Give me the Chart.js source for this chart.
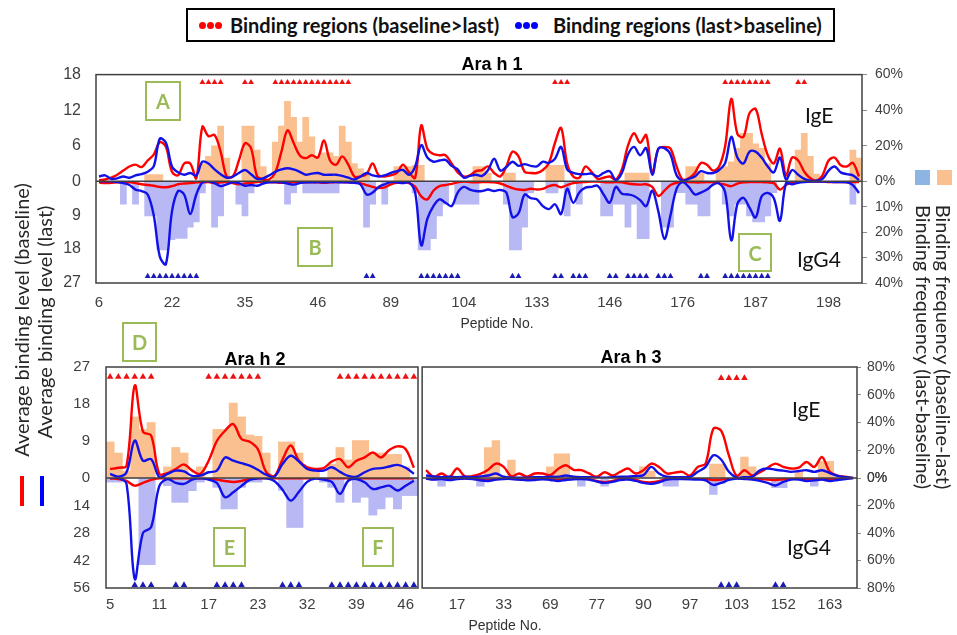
<!DOCTYPE html>
<html>
<head>
<meta charset="utf-8">
<script src="https://cdn.jsdelivr.net/npm/chart.js@4.4.1/dist/chart.umd.min.js"></script>
<style>
html,body{margin:0;padding:0;background:#ffffff;}
#page{position:relative;width:957px;height:635px;overflow:hidden;background:#fff;}
canvas{position:absolute;display:block;}
.txt{position:absolute;white-space:nowrap;line-height:1;}
.ctr{transform:translate(-50%,-50%);}
.hc{transform:translateX(-50%);}
.rotL{transform:translate(-50%,-50%) rotate(-90deg);}
.rotR{transform:translate(-50%,-50%) rotate(90deg);}
.gbox{position:absolute;border:2px solid #9bbb59;box-sizing:border-box;color:#9bbb59;font:bold 20px Lato,sans-serif;display:flex;align-items:center;justify-content:center;}
.dot{position:absolute;width:7px;height:7px;border-radius:50%;}
.side{font-family:Lato,sans-serif;font-size:20px;color:#262626;}
.ig{font-family:Lato,sans-serif;font-size:21px;color:#111;}
.ttl{font-family:"Liberation Sans",Arial,sans-serif;font-weight:bold;font-size:18px;color:#000;}
.pep{font-family:"Liberation Sans",Arial,sans-serif;font-size:14px;color:#333;}
.leg{font-family:Lato,sans-serif;font-weight:bold;font-size:20px;color:#111;}
</style>
</head>
<body>
<div id="page">
  <canvas id="c1" width="957" height="290" style="left:0;top:50px"></canvas>
  <canvas id="c2" width="422" height="295" style="left:0;top:340px"></canvas>
  <canvas id="c3" width="539" height="295" style="left:418px;top:340px"></canvas>

  <div style="position:absolute;left:186px;top:8px;width:649px;height:34px;border:2.5px solid #000;box-sizing:border-box;"></div>
  <div class="dot" style="left:199px;top:22px;background:#ff0000"></div>
  <div class="dot" style="left:207px;top:22px;background:#ff0000"></div>
  <div class="dot" style="left:215px;top:22px;background:#ff0000"></div>
  <div class="txt leg" style="left:230px;top:15px">Binding regions (baseline&gt;last)</div>
  <div class="dot" style="left:515px;top:22px;background:#0000ff"></div>
  <div class="dot" style="left:523px;top:22px;background:#0000ff"></div>
  <div class="dot" style="left:531px;top:22px;background:#0000ff"></div>
  <div class="txt leg" style="left:553px;top:15px">Binding regions (last&gt;baseline)</div>

  <div class="txt ttl hc" style="left:492px;top:55px">Ara h 1</div>
  <div class="txt ttl hc" style="left:255px;top:350px">Ara h 2</div>
  <div class="txt ttl hc" style="left:631px;top:348px">Ara h 3</div>

  <div class="txt pep ctr" style="left:497px;top:323px">Peptide No.</div>
  <div class="txt pep ctr" style="left:505px;top:625px">Peptide No.</div>

  <div class="txt ig" style="left:805px;top:104px">IgE</div>
  <div class="txt ig" style="left:797px;top:248px">IgG4</div>
  <div class="txt ig" style="left:792px;top:398px">IgE</div>
  <div class="txt ig" style="left:787px;top:536px">IgG4</div>

  <div class="gbox" style="left:145px;top:81px;width:36px;height:40px">A</div>
  <div class="gbox" style="left:297px;top:227px;width:36px;height:40px">B</div>
  <div class="gbox" style="left:738px;top:233px;width:34px;height:39px">C</div>
  <div class="gbox" style="left:122px;top:322px;width:35px;height:40px">D</div>
  <div class="gbox" style="left:213px;top:527px;width:33px;height:40px">E</div>
  <div class="gbox" style="left:362px;top:527px;width:32px;height:40px">F</div>

  <div class="txt side rotL" style="left:21px;top:320px">Average binding level (baseline)</div>
  <div class="txt side rotL" style="left:44px;top:322px">Average binding level (last)</div>
  <div style="position:absolute;left:20px;top:476px;width:4px;height:30px;background:#ff0000"></div>
  <div style="position:absolute;left:40px;top:476px;width:4px;height:30px;background:#0000ff"></div>

  <div style="position:absolute;left:915px;top:170px;width:15px;height:15px;background:#8db4e2"></div>
  <div style="position:absolute;left:937px;top:170px;width:15px;height:15px;background:#fac090"></div>
  <div class="txt side rotR" style="left:944px;top:347px">Binding frequency (baseline-last)</div>
  <div class="txt side rotR" style="left:924px;top:347px">Binding frequency (last-baseline)</div>
</div>

<script>
// ---------------- Ara h 1 ----------------
const ah1Count = 126;
const ah1Ticks = ['6','22','35','46','89','104','133','146','176','187','198'];
const ah1IgEBaseline = [0.2,0.3,0.6,1.1,1.8,2.5,2.8,2.4,3.5,4.5,6.6,5.8,1.6,1.0,3.0,3.0,0.5,9.2,7.6,7.8,5.0,0.8,0.8,3.5,6.4,5.6,0.8,0.3,0.3,1.5,5.0,8.6,6.5,4.4,3.9,4.4,4.0,6.9,3.5,2.8,4.2,2.8,0.8,0.8,1.2,3.0,1.0,0.8,1.0,1.4,2.8,1.5,0.6,9.4,5.5,4.6,4.4,4.4,3.0,1.5,0.8,1.0,1.7,1.9,2.5,1.4,0.8,2.5,5.0,4.2,1.6,1.4,1.4,1.9,3.1,6.5,9.0,3.0,0.8,0.6,2.5,1.6,0.4,0.6,0.8,0.3,2.0,6.0,8.1,6.5,7.8,1.4,5.5,5.8,5.5,2.5,0.3,0.5,1.4,3.1,2.8,1.8,2.5,6.0,13.9,8.0,7.5,11.5,12.2,8.0,4.4,3.0,5.5,1.0,4.0,3.5,1.6,0.5,0.1,1.0,3.5,4.0,2.7,2.5,3.1,0.8];
const ah1IgELast = [0.8,1.0,0.4,0.5,0.8,0.6,1.0,1.2,1.6,2.5,7.2,6.5,2.5,1.5,1.1,1.4,1.0,3.3,3.0,2.0,1.2,0.6,0.8,1.4,1.9,1.2,0.4,0.5,1.0,1.6,2.0,2.2,2.0,1.6,1.1,1.3,1.4,1.1,1.1,1.1,0.9,0.6,0.3,0.8,1.4,1.0,0.8,1.0,1.4,1.7,1.9,1.1,2.5,6.1,4.0,3.3,3.5,3.6,2.6,2.0,0.6,0.9,1.1,0.9,1.9,3.8,1.8,2.4,3.3,2.6,2.9,2.6,2.5,3.3,3.1,3.8,5.8,2.0,1.4,1.2,1.2,1.3,0.8,1.4,1.7,0.2,1.4,4.5,5.8,4.4,5.6,1.1,5.5,5.6,4.5,1.0,0.1,0.4,0.8,1.7,1.4,1.4,1.9,3.1,7.5,4.0,3.0,5.0,5.0,4.0,2.5,1.5,4.0,0.3,1.9,1.1,0.4,0.1,0.1,0.4,1.8,2.5,1.5,1.2,1.0,0.2];
const ah1IgG4Baseline = [0.3,0.5,0.4,0.3,0.2,0.3,0.5,0.8,1.0,1.2,1.5,1.6,1.3,0.8,0.6,0.5,0.3,0.3,0.2,0.5,0.3,0.2,0.5,0.8,0.6,0.4,0.2,0.1,0.2,0.3,0.4,0.3,0.2,0.2,0.3,0.2,0.3,0.4,0.3,0.2,0.2,0.3,0.4,0.5,1.0,1.5,1.8,1.6,0.8,0.4,0.3,0.5,1.5,4.0,4.8,2.5,1.3,1.0,0.7,0.3,0.1,0.2,0.3,0.2,0.2,0.3,0.6,1.2,1.8,2.2,2.3,2.0,2.2,2.0,1.3,1.0,1.6,1.0,0.5,0.3,0.2,0.1,0.1,0.2,0.3,0.2,0.3,0.6,0.8,0.9,0.8,1.5,3.9,2.5,1.0,0.4,0.2,0.2,0.3,0.3,0.2,0.3,0.5,0.9,1.3,0.6,0.3,0.2,0.2,0.2,0.3,0.5,2.2,1.0,0.2,0.1,0.1,0.1,0.1,0.1,0.2,0.2,0.2,0.2,0.2,0.2];
const ah1IgG4Last = [0,0,0,0.2,0.5,1.0,2.2,2.6,3.5,9.0,20.0,22.0,8.0,2.6,3.5,8.7,3.5,0.3,0.0,0.5,1.3,0.8,0.3,0.5,1.2,1.0,1.2,0.6,0.3,0.2,0.3,0.6,0.9,0.5,0.3,0.3,0.2,0.3,0.2,0.2,0.3,0.3,0.4,0.8,3.5,3.0,1.5,0.8,0.2,0.3,0.5,0.3,3.0,17.0,10.0,6.6,4.8,5.7,6.6,3.0,1.5,2.2,2.6,2.6,2.2,2.6,2.3,3.0,9.5,8.5,3.5,4.5,4.8,6.6,7.4,6.1,8.7,2.0,5.7,3.0,1.7,1.5,1.2,3.5,5.7,1.5,3.3,3.5,3.9,5.0,6.6,2.5,8.0,15.3,9.0,2.0,0.2,1.5,3.5,3.0,2.2,0.9,0.6,3.0,15.7,6.0,4.4,7.0,9.6,4.0,3.1,4.5,10.5,0.5,0.8,0.4,0.2,0.1,0.1,0.1,0.1,0.2,0.2,0.3,1.0,3.1];
const ah1FreqBaselineLast = [0,0,0,0,0,0,0,0,3.7,3.7,3.7,0,0,0,0,0,0,10,14,20,31,13,0,0,31,31,17.6,8.3,0,22,31,45,36,22,36,25,14,16,16,14,31,22,10,7,4.6,0,0,0,0,8.3,8.3,8.3,9,9,0,0,0,0,0,0,0,0,8.3,8.3,4.6,0,0,4.6,4.6,0,0,0,0,0,9,9,9,0,0,0,0,0,0,0,0,0,0,4.6,4.6,4.6,4.6,0,0,0,0,0,0,8.3,8.3,4.6,0,0,6.5,8.3,11,18.5,27,27,21,18.5,10,0,0,0,0,17.6,27,14,4,0,0,0,0,0,17.6,13];
const ah1FreqLastBaseline = [0,0,0,0,9,0,9,0,13.6,13.6,27,27,23,22.5,22.5,18,16,4.6,0,18,13.6,0,0,9,13.6,4.6,0,0,0,0,0,9,4.6,0,4.6,4.6,4.6,4.6,4.6,4.6,0,0,0,0,18,9,0,9,0,0,0,0,4.6,27,27,22.6,13.6,9,0,9,9,9,9,0,0,0,0,9,27,27,18,4.6,0,0,4.6,4.6,0,13.6,0,9,0,0,0,13.6,13.6,9,9,18,9,22.6,22.6,0,0,18,18,4.5,4.5,9,9,13.6,13.6,0,0,9,13.6,9,9,13.6,16,16,13.6,4.5,0,0,0,0,0,0,0,0,0,0,0,0,9,0];
const ah1RedMarks = [17,18,19,20,24,25,29,30,31,32,33,34,35,36,37,38,39,40,41,75,76,77,103,104,105,106,107,108,109,110,115,116];
const ah1BlueMarks = [8,9,10,11,12,13,14,15,16,44,45,53,54,55,56,57,58,59,68,69,75,76,78,79,80,84,85,87,88,89,90,92,93,94,99,100,103,104,105,106,107,108,109,110];

// ---------------- Ara h 2 ----------------
const ah2Count = 38;
const ah2Ticks = ['5','11','17','23','32','39','46'];
const ah2IgEBaseline = [2.2,2.5,3.0,22.5,11.3,10.3,1.0,1.2,2.2,3.3,1.8,1.0,4.2,9.0,11.5,13.1,9.5,8.8,7.0,1.5,0.5,4.5,7.9,4.2,2.6,2.2,2.4,4.0,4.6,2.6,4.2,5.0,6.2,5.0,6.8,7.7,7.0,2.5];
const ah2IgELast = [1.0,0.3,1.4,9.1,4.2,4.6,0.2,1.0,1.8,1.6,0.5,0.6,1.4,1.8,5.0,4.2,3.6,3.0,2.0,0.8,0.3,3.4,5.4,4.0,2.2,1.8,1.8,2.6,1.5,0.5,0.3,1.4,2.2,2.4,2.8,3.2,2.5,1.0];
const ah2IgG4Baseline = [0.3,0.5,1.5,3.9,2.5,1.0,0.2,0.2,0.2,0.2,0.2,0.2,0.2,0.8,1.5,2.0,1.5,0.5,0.2,0.2,0.2,0.2,0.2,0.2,0.2,0.2,0.2,0.2,0.2,0.2,0.2,0.2,0.2,0.2,0.2,0.2,0.2,0.2];
const ah2IgG4Last = [0,0,3.0,51.4,28,25,4,0.5,2.5,3.0,0.8,0.2,0.8,2.5,9.8,7.3,4.0,1.0,0.2,0.2,1.5,6.0,11.5,7.0,2.0,0.3,0.8,2.0,8.1,1.4,0.5,2.2,5.6,4.8,3.9,6.4,3.9,1.4];
const ah2FreqBaselineLast = [26,18,5,44,35,40,0,8,22,18,0,8,0,35,35,54,44,31,30,18,0,26,26,18,8,5,0,10,22,13,27,27,18,18,17,17,8,0];
const ah2FreqLastBaseline = [3,3,0,0,63,63,0,5.6,17.7,17.7,9.2,3,0,6.8,22.5,22.5,6.8,3,3,0,0,9,36,36,0,0,3,6.8,17.7,0,17.7,14,27,22.5,14,22.5,12.8,12.8];
const ah2RedMarks = [0,1,2,3,4,5,12,13,14,15,16,17,18,28,29,30,31,32,33,34,35,36,37];
const ah2BlueMarks = [3,4,5,8,9,13,14,15,16,21,22,23,27,28,29,30,31,32,33,34,35,36,37];

// ---------------- Ara h 3 ----------------
const ah3Count = 56;
const ah3Ticks = ['17','33','69','77','90','97','103','152','163'];
const ah3IgEBaseline = [1.9,0.3,1.1,0.2,2.3,0.4,0.5,1.0,2.0,3.5,2.7,0.4,1.1,0.3,1.1,1.1,0.7,2.2,3.1,2.0,1.9,1.1,0.3,1.4,0.6,1.5,2.3,1.1,1.9,3.5,2.7,1.1,1.3,1.5,0.6,2.7,3.5,12.0,11.5,5.5,0.5,1.9,0.6,1.4,2.5,3.5,2.7,2.3,2.5,3.9,2.7,5.1,1.5,0.6,0.3,0];
const ah3IgELast = [0.6,0.4,0.2,0.3,0.2,0.3,0.2,0.4,0.6,1.1,0.3,0.1,0.1,0.1,0.2,0.2,0.3,0.3,0.6,0.3,0.2,0.2,0.1,0.1,0.2,0.3,0.3,0.5,0.7,2.7,1.1,0.3,0.2,0.2,0.3,1.5,2.7,5.5,4.5,1.5,0.1,0.2,0.3,1.9,2.3,2.0,1.8,1.5,1.7,1.9,1.5,1.9,1.2,0.5,0.2,0];
const ah3IgG4Baseline = [0.3,0.5,0.3,0.6,0.3,0.2,0.4,0.8,1.0,0.5,0.3,0.4,0.6,0.8,0.6,0.4,0.6,1.0,0.6,0.4,0.3,0.6,1.5,2.2,1.5,0.6,0.4,1.0,2.0,2.2,1.6,0.5,0.3,0.3,0.4,0.4,0.5,1.0,0.8,0.4,0.2,0.3,0.4,0.6,0.8,1.0,0.6,0.4,0.3,0.5,0.6,0.5,0.4,0.3,0.2,0];
const ah3IgG4Last = [0.3,0.8,0.5,1.0,0.5,0.3,0.5,1.2,1.5,0.8,0.5,0.5,0.8,1.2,1.0,0.6,1.0,1.5,1.0,0.6,0.5,0.8,1.8,2.5,2.0,1.0,0.8,1.5,2.5,3.0,2.2,0.8,0.5,0.5,0.6,0.8,1.2,3.5,2.5,1.0,0.3,0.5,0.8,1.5,2.5,3.8,2.0,0.8,0.8,1.5,1.2,0.8,1.5,1.0,0.5,0];
const ah3FreqBaselineLast = [0,0,0,0,0,0,0,0,22,27,0,13,0,0,0,0,8,17.5,17.5,0,0,0,0,0,0,0,0,0,8,5,0,0,0,0,0,0,0,10,10,0,0,15,8,0,0,0,0,0,5,0,0,12,12,0,0,0];
const ah3FreqLastBaseline = [0,0,6,0,0,0,0,6,0,0,0,0,0,0,0,0,0,0,0,0,6,0,0,6,0,0,0,0,0,0,0,6,6,0,0,0,0,12,4,0,0,0,0,0,0,7,7,0,0,0,6,0,0,0,0,0];
const ah3RedMarks = [38,39,40,41];
const ah3BlueMarks = [38,39,40,45,46];

// ---------------- drawing ----------------
const ORANGE = '#fac090', LAVENDER = '#b8b8f4', RED = '#ff0000', BLUE = '#1212e8';
const TRI_RED = '#ee1111', TRI_BLUE = '#1a1ab4', AXIS = '#404040';
const FONT = '"Liberation Sans", Arial, sans-serif';

function buildLabels(n, ticks, start, step) {
  const out = [];
  for (let i = 0; i < n; i++) {
    const k = (i - start) / step;
    out.push(i >= start && Number.isInteger(k) && k < ticks.length ? ticks[k] : '');
  }
  return out;
}
function markSeries(n, idx, level) {
  const a = new Array(n).fill(null);
  idx.forEach(i => { a[i] = level; });
  return a;
}

const framePlugin = {
  id: 'frame',
  afterDatasetsDraw(chart) {
    const {ctx, chartArea: a} = chart;
    const zy = chart.scales.yE.bottom;
    ctx.save();
    ctx.strokeStyle = AXIS;
    ctx.lineWidth = 1.5;
    ctx.beginPath(); ctx.moveTo(a.left, zy); ctx.lineTo(a.right, zy); ctx.stroke();
    ctx.strokeRect(a.left, a.top, a.right - a.left, a.bottom - a.top);
    ctx.restore();
  }
};

function makePanel(id, o) {
  const n = o.count;
  const labels = buildLabels(n, o.ticks, o.tickStart, o.tickStep);
  const line = (data, color, axis, ord) => ({type:'line', data, yAxisID:axis, borderColor:color, borderWidth:2.4,
    pointRadius:0, tension:0.35, fill:false, order:ord});
  const tri = (data, color, axis) => ({type:'line', data, yAxisID:axis, showLine:false, pointStyle:'triangle',
    pointRadius:o.triR, pointBackgroundColor:color, pointBorderColor:color, pointBorderWidth:0, order:0});
  const bar = (data, color, axis) => ({type:'bar', data, yAxisID:axis, backgroundColor:color, grouped:false,
    barPercentage:1, categoryPercentage:1, borderWidth:0, order:5});
  const datasets = [
    bar(o.freqUp, ORANGE, 'fE'),
    bar(o.freqDown, LAVENDER, 'fG'),
    line(o.g4Base, RED, 'yG', 3),
    line(o.g4Last, BLUE, 'yG', 2),
    line(o.eBase, RED, 'yE', 3),
    line(o.eLast, BLUE, 'yE', 2),
    tri(markSeries(n, o.redMarks, o.redLevel), TRI_RED, 'yE'),
    tri(markSeries(n, o.blueMarks, o.blueLevel), TRI_BLUE, 'yG')
  ];
  const leftFit = s => { if (s.options.display) s.width = o.leftW; };
  const rightFit = s => { if (s.options.display) s.width = o.rightW; };
  const leftAxis = (weight, max, step, reverse) => ({
    position:'left', stack:'L', stackWeight:weight, min:0, max, reverse, display:o.showLeft,
    grid:{display:false, drawTicks:false}, border:{display:false},
    ticks:{stepSize:step, autoSkip:false, padding:o.lPad, color:AXIS, font:{family:FONT, size:o.lFont},
      callback: v => (reverse && v === 0) ? '' : String(v)},
    afterFit:leftFit
  });
  const rightAxis = (weight, max, step, reverse) => ({
    position:'right', stack:'R', stackWeight:weight, min:0, max, reverse, display:o.showRight,
    grid:{display:true, drawOnChartArea:false, drawTicks:true, tickLength:o.tl, color:'#8a8a8a'}, border:{display:false},
    ticks:{stepSize:step, autoSkip:false, padding:o.rPad, color:AXIS, font:{family:FONT, size:o.rFont},
      callback: v => (reverse && v === 0 && !o.zeroTwice) ? '' : v + '%'},
    afterFit:rightFit
  });
  return new Chart(document.getElementById(id), {
    data:{labels, datasets},
    options:{
      responsive:false, animation:false, events:[],
      layout:{padding:o.padding},
      plugins:{legend:{display:false}, tooltip:{enabled:false}, title:{display:false}},
      scales:{
        x:{type:'category', offset:true, grid:{display:false, drawTicks:false}, border:{display:false},
           ticks:{autoSkip:false, maxRotation:0, minRotation:0, padding:o.xPad, color:AXIS, font:{family:FONT, size:15}},
           afterFit: s => { s.height = o.xH; }},
        // left-side stacked boxes are laid out in reverse order: lower axis listed first
        yG:leftAxis(o.wG, o.maxG, o.stepG, true),
        yE:leftAxis(o.wE, o.maxE, o.stepE, false),
        fE:rightAxis(o.wE, o.maxFE, o.stepFE, false),
        fG:rightAxis(o.wG, o.maxFG, o.stepFG, true)
      }
    },
    plugins:[framePlugin]
  });
}

makePanel('c1', {
  count:ah1Count, ticks:ah1Ticks, tickStart:0, tickStep:12,
  eBase:ah1IgEBaseline, eLast:ah1IgELast, g4Base:ah1IgG4Baseline, g4Last:ah1IgG4Last,
  freqUp:ah1FreqBaselineLast, freqDown:ah1FreqLastBaseline,
  redMarks:ah1RedMarks, blueMarks:ah1BlueMarks, redLevel:16.7, blueLevel:25.2, triR:3.4,
  maxE:18, stepE:6, maxG:27, stepG:9, maxFE:60, stepFE:20, maxFG:40, stepFG:10,
  wE:108, wG:103, showLeft:true, showRight:true, leftW:96, rightW:95,
  lPad:15, lFont:16, rPad:8, rFont:14, tl:5, xPad:11, xH:57, zeroTwice:false,
  padding:{top:22, left:0, right:0, bottom:0}
});
makePanel('c2', {
  count:ah2Count, ticks:ah2Ticks, tickStart:0, tickStep:6,
  eBase:ah2IgEBaseline, eLast:ah2IgELast, g4Base:ah2IgG4Baseline, g4Last:ah2IgG4Last,
  freqUp:ah2FreqBaselineLast, freqDown:ah2FreqLastBaseline,
  redMarks:ah2RedMarks, blueMarks:ah2BlueMarks, redLevel:24.6, blueLevel:54.5, triR:3.8,
  maxE:27, stepE:9, maxG:56, stepG:14, maxFE:80, stepFE:20, maxFG:80, stepFG:20,
  wE:111, wG:110, showLeft:true, showRight:false, leftW:106, rightW:0,
  lPad:16, lFont:15, rPad:6, rFont:14, tl:4, xPad:8, xH:47, zeroTwice:true,
  padding:{top:27, left:0, right:4, bottom:0}
});
makePanel('c3', {
  count:ah3Count, ticks:ah3Ticks, tickStart:4, tickStep:6,
  eBase:ah3IgEBaseline, eLast:ah3IgELast, g4Base:ah3IgG4Baseline, g4Last:ah3IgG4Last,
  freqUp:ah3FreqBaselineLast, freqDown:ah3FreqLastBaseline,
  redMarks:ah3RedMarks, blueMarks:ah3BlueMarks, redLevel:24.3, blueLevel:54.5, triR:3.8,
  maxE:27, stepE:9, maxG:56, stepG:14, maxFE:80, stepFE:20, maxFG:80, stepFG:20,
  wE:111, wG:110, showLeft:false, showRight:true, leftW:0, rightW:100,
  lPad:16, lFont:15, rPad:6, rFont:14, tl:4, xPad:8, xH:47, zeroTwice:true,
  padding:{top:27, left:0, right:0, bottom:0}
});
</script>
</body>
</html>
